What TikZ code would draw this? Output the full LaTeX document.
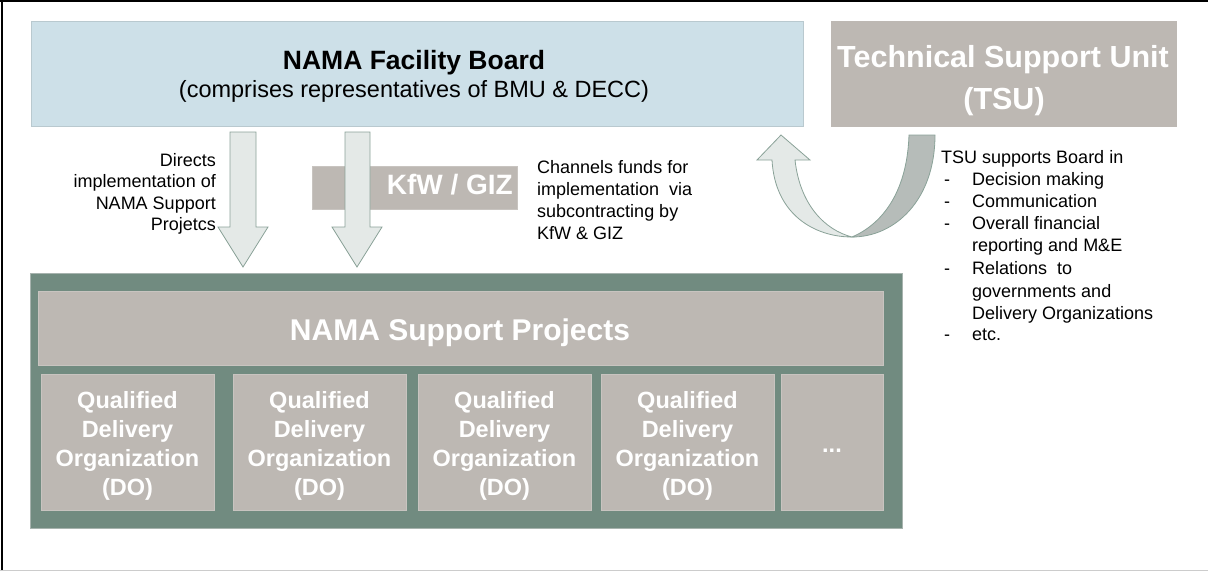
\documentclass[tikz,border=0pt]{standalone}
\usepackage{fontspec}
\setmainfont{Liberation Sans}
\definecolor{boardfill}{HTML}{CDE0E8}
\definecolor{boardline}{HTML}{B9C9CF}
\definecolor{taupe}{HTML}{BDB8B3}
\definecolor{taupeline}{HTML}{C8C4C0}
\definecolor{sage}{HTML}{718B80}
\definecolor{sageline}{HTML}{A7B3AE}
\definecolor{arrowfill}{HTML}{E4E9E7}
\definecolor{arrowline}{HTML}{8AA298}
\definecolor{arrowdark}{HTML}{B6BCB9}
\tikzset{
  box/.style={anchor=north west, inner sep=0pt, outer sep=0pt},
  greybox/.style={box, fill=taupe, draw=taupeline, line width=0.6pt, text=white, font=\bfseries},
  blockarrow/.style={fill=arrowfill, draw=arrowline, line width=0.8pt, line join=miter},
  bodytext/.style={inner sep=0pt, font=\fontsize{18}{22}\selectfont},
  dotext/.style={align=center, font=\fontsize{23.5}{29}\selectfont\bfseries, text=white}
}
\begin{document}
\begin{tikzpicture}[x=1pt,y=-1pt]
\useasboundingbox (0,0) rectangle (1208,571);
% frame
\draw[line width=2pt] (0,1) -- (1208,1);
\draw[line width=2pt] (1.5,0) -- (1.5,570);
\draw[line width=1pt, black!20] (0,570) -- (1208,570);

% board
\node[box, fill=boardfill, draw=boardline, line width=0.6pt, minimum width=772pt, minimum height=105pt] (board) at (31,21) {};
\node[anchor=base, inner sep=0pt, font=\fontsize{26.5}{30}\selectfont\bfseries] (boardtitle) at (414,69) {NAMA Facility Board};
\node[anchor=base, inner sep=0pt, font=\fontsize{23.5}{28}\selectfont] (boardsub) at (414,97) {(comprises representatives of BMU \& DECC)};

% TSU
\node[greybox, draw=none, minimum width=346pt, minimum height=106pt] (tsu) at (831,21) {};
\node[anchor=base, inner sep=0pt, text=white, font=\fontsize{30.5}{36}\selectfont\bfseries] (tsut1) at (1003,67) {Technical Support Unit};
\node[anchor=base, inner sep=0pt, text=white, font=\fontsize{30.5}{36}\selectfont\bfseries] (tsut2) at (1004,109) {(TSU)};

% KfW / GIZ
\node[greybox, minimum width=205pt, minimum height=43pt] (kfw) at (312,166) {};
\node[anchor=base east, inner sep=0pt, text=white, font=\fontsize{28}{32}\selectfont\bfseries] (kfwt) at (513,194) {KfW / GIZ};

% down arrows
\draw[blockarrow] (230,132) -- (256,132) -- (256,227) -- (268,227) -- (243,267) -- (218,227) -- (230,227) -- cycle;
\draw[blockarrow] (345,132) -- (370,132) -- (370,227) -- (382,227) -- (357,267) -- (332,227) -- (345,227) -- cycle;

% left texts
\foreach \t [count=\i] in {Directs, implementation of, NAMA Support, Projetcs}
  \node[bodytext, anchor=base east] (dir\i) at (216,{166+21.5*(\i-1)}) {\t};
\foreach \t [count=\i] in {Channels funds for, implementation~~via, subcontracting by, KfW \& GIZ}
  \node[bodytext, anchor=base west] (chan\i) at (537,{173+22*(\i-1)}) {\t};

% curved arrow
\fill[arrowfill, draw=arrowline, line width=0.8pt, line join=miter]
  (757,160) -- (781,135) -- (810,160) -- (795,160)
  .. controls (800,205) and (825,230) .. (852,237)
  .. controls (815,237) and (775,215) .. (772,160) -- cycle;
\fill[arrowdark, draw=arrowline, line width=0.8pt]
  (909,135) -- (935,135) .. controls (935,200) and (895,237) .. (852,237)
  .. controls (880,225) and (907,195) .. (909,135) -- cycle;

% TSU text list
\node[bodytext, anchor=base west] (tsuhead) at (941,163) {TSU supports Board in};
\foreach \t/\y [count=\i] in {Decision making/185, Communication/207, Overall financial/229, Relations~~to/274, etc./340}
  \node[bodytext, anchor=base west] (dash\i) at (944,\y) {-};
\foreach \t/\y [count=\i] in {Decision making/185, Communication/207, Overall financial/229, reporting and M\&E/251, Relations~~to/274, governments and/297, Delivery Organizations/319, etc./340}
  \node[bodytext, anchor=base west] (item\i) at (972,\y) {\t};

% container
\node[box, fill=sage, draw=sageline, line width=0.8pt, minimum width=872pt, minimum height=255pt] (container) at (30,273) {};
\node[greybox, minimum width=845pt, minimum height=74pt] (projects) at (38,291) {};
\node[anchor=base, inner sep=0pt, text=white, font=\fontsize{30}{36}\selectfont\bfseries] (projt) at (460,340) {NAMA Support Projects};

\foreach \xa/\xb [count=\i] in {41/214, 233/406, 418/591, 601/774}{
  \node[greybox, minimum width={(\xb-\xa)*1pt}, minimum height=136pt] (do\i) at (\xa,374) {};
  \node[dotext] (dot\i) at ({(\xa+\xb)/2},446) {Qualified\\Delivery\\Organization\\(DO)};
}
\node[greybox, minimum width=102pt, minimum height=136pt] (do5) at (781,374) {};
\node[text=white, font=\fontsize{23.5}{29}\selectfont\bfseries] (dot5) at (832,451) {...};
\end{tikzpicture}
\end{document}
